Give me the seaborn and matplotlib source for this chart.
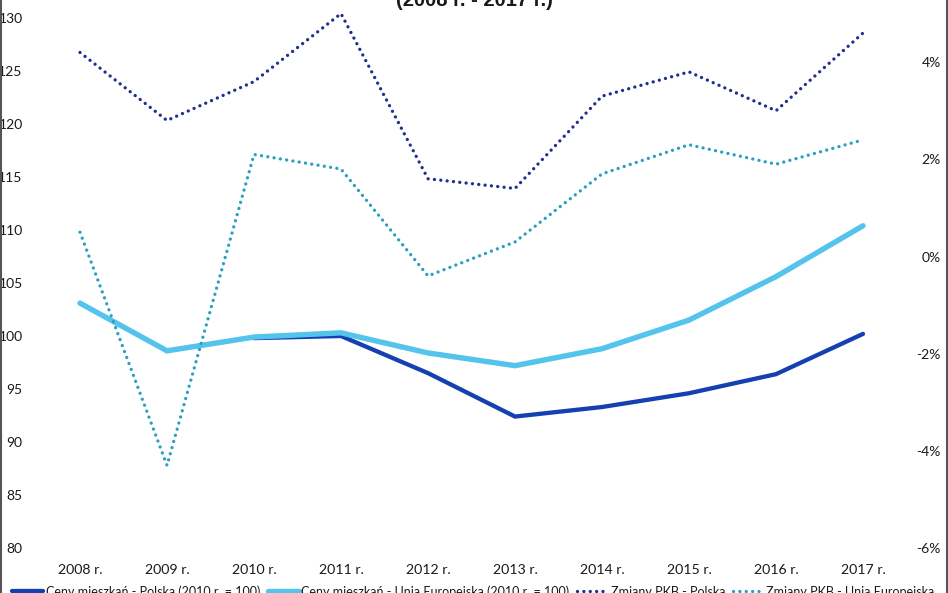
import numpy as np
import pandas as pd
import matplotlib
matplotlib.use("Agg")
import matplotlib.pyplot as plt
from matplotlib.lines import Line2D
from matplotlib.ticker import FuncFormatter
import seaborn as sns

sns.set_theme(style="white")
plt.rcParams["font.family"] = ["Lato", "DejaVu Sans"]

# data
years = ["2008 r.", "2009 r.", "2010 r.", "2011 r.", "2012 r.",
         "2013 r.", "2014 r.", "2015 r.", "2016 r.", "2017 r."]
prices_pl = [np.nan, np.nan, 99.8, 100.0, 96.5, 92.4, 93.3, 94.6, 96.4, 100.2]
prices_eu = [103.1, 98.6, 99.9, 100.3, 98.4, 97.2, 98.8, 101.5, 105.6, 110.4]
gdp_pl = [4.2, 2.8, 3.6, 5.0, 1.6, 1.4, 3.3, 3.8, 3.0, 4.6]
gdp_eu = [0.5, -4.3, 2.1, 1.8, -0.4, 0.3, 1.7, 2.3, 1.9, 2.4]

labels = ["Ceny mieszkań - Polska (2010 r. = 100)",
          "Ceny mieszkań - Unia Europejska (2010 r. = 100)",
          "Zmiany PKB - Polska",
          "Zmiany PKB - Unia Europejska"]

c_pl = "#1440B0"
c_eu = "#55C4EC"
c_gpl = "#1F2F8C"
c_geu = "#2B9FC0"

df = pd.DataFrame({"x": np.arange(len(years)), "pl": prices_pl, "eu": prices_eu,
                   "gpl": gdp_pl, "geu": gdp_eu})

fig = plt.figure(figsize=(9.48, 5.93), dpi=100)
# plot area runs past the top edge: the reference is a crop of a bigger chart
ax = fig.add_axes([36.5 / 948, 45 / 593, 870 / 948, 583 / 593])
ax2 = ax.twinx()

sns.lineplot(data=df, x="x", y="pl", ax=ax, color=c_pl, linewidth=3.1,
             solid_joinstyle="miter", label=labels[0], legend=False)
sns.lineplot(data=df, x="x", y="eu", ax=ax, color=c_eu, linewidth=3.9,
             solid_joinstyle="miter", label=labels[1], legend=False)
dots = (0, (0.01, 1.9))
sns.lineplot(data=df, x="x", y="gpl", ax=ax2, color=c_gpl, linewidth=2.4,
             linestyle=dots, dash_capstyle="round", label=labels[2], legend=False)
sns.lineplot(data=df, x="x", y="geu", ax=ax2, color=c_geu, linewidth=2.4,
             linestyle=dots, dash_capstyle="round", label=labels[3], legend=False)

ax.set_xlim(-0.5, len(years) - 0.5)
ax.set_ylim(80, 135)
ax2.set_ylim(-6, 6)
ax.set_xticks(df["x"], years)
ax.set_yticks(np.arange(80, 131, 5))
ax2.set_yticks(np.arange(-6, 7, 2))
ax2.yaxis.set_major_formatter(FuncFormatter(lambda v, p: f"{v:.0f}%"))

for a in (ax, ax2):
    a.set_xlabel("")
    a.set_ylabel("")
    for s in a.spines.values():
        s.set_visible(False)
    a.grid(False)
    a.patch.set_alpha(0)

ax.tick_params(axis="x", length=0, pad=11.5, labelsize=10.2, labelcolor="#1a1a1a")
ax.tick_params(axis="y", length=0, pad=10.0, labelsize=10, labelcolor="#1a1a1a")
ax2.tick_params(axis="y", length=0, pad=24.8, labelsize=10, labelcolor="#1a1a1a")
for t in ax2.get_yticklabels():
    t.set_horizontalalignment("right")

# cut-off title and legend, as in the crop
fig.text(474 / 948, 1 - 6 / 593, "(2008 r. - 2017 r.)", ha="center", va="baseline",
         fontsize=14.5, fontweight="bold", family=["Liberation Sans", "DejaVu Sans"],
         color="#1a1a1a")

handles = ax.get_lines()[:2] + ax2.get_lines()[:2]
fig.legend(handles, labels, loc="upper left", bbox_to_anchor=(12 / 948, 1 - 585 / 593),
           ncol=4, frameon=False, fontsize=9, borderpad=0, borderaxespad=0,
           handlelength=2.5, handletextpad=0.2, columnspacing=0.6,
           labelcolor="#1a1a1a")

# border lines at left and right edges
fig.add_artist(Line2D([0.8 / 948, 0.8 / 948], [0, 1], transform=fig.transFigure,
                      color="#555555", linewidth=1.5))
fig.add_artist(Line2D([946.5 / 948, 946.5 / 948], [0, 1], transform=fig.transFigure,
                      color="#555555", linewidth=1.5))

fig.savefig("out.png", dpi=100)
